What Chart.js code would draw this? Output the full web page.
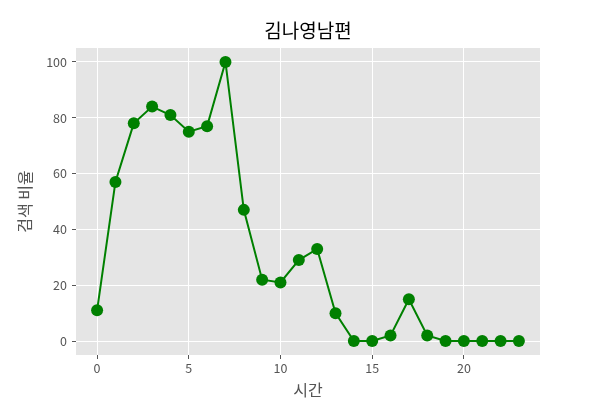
<!DOCTYPE html>
<html><head><meta charset="utf-8">
<script src="https://cdn.jsdelivr.net/npm/chart.js@4"></script>
<style>html,body{margin:0;padding:0;background:#fff}#wrap{width:600px;height:400px}</style>
</head><body><div id="wrap"><canvas id="c" width="600" height="400"></canvas></div>
<script>
const hours = [0,1,2,3,4,5,6,7,8,9,10,11,12,13,14,15,16,17,18,19,20,21,22,23];
const ratio = [11,57,78,84,81,75,77,100,47,22,21,29,33,10,0,0,2,15,2,0,0,0,0,0];
const titleText = '김나영남편';
const xLabel = '시간';
const yLabel = '검색 비율';
const FONT = "'Noto Sans CJK KR', 'Noto Sans', sans-serif";

const bgPlugin = {
  id: 'bg',
  afterLayout(chart) {
    const t = chart.titleBlock, a = chart.chartArea;
    if (t) { t.left = a.left; t.right = a.right; t.width = a.right - a.left; }
  },
  beforeDraw(chart) {
    const {ctx, chartArea: a} = chart;
    ctx.save(); ctx.fillStyle = '#E5E5E5';
    ctx.fillRect(a.left, a.top, a.right - a.left, a.bottom - a.top);
    ctx.restore();
  }
};

new Chart(document.getElementById('c'), {
  type: 'line',
  data: { datasets: [{
    data: hours.map((h, i) => ({x: h, y: ratio[i]})),
    borderColor: '#008000', backgroundColor: '#008000',
    pointBackgroundColor: '#008000', pointBorderWidth: 0,
    borderWidth: 2, pointRadius: 6, pointHoverRadius: 6, tension: 0
  }]},
  options: {
    responsive: false, animation: false,
    layout: { padding: { left: 0, right: 60, top: 0, bottom: 0 } },
    plugins: {
      legend: { display: false }, tooltip: { enabled: false },
      title: { display: true, text: titleText, color: '#000',
        font: { family: FONT, size: 19, weight: 'normal', lineHeight: 1.2 },
        padding: { top: 19, bottom: 6.2 } }
    },
    scales: {
      x: { type: 'linear', min: -1.15, max: 24.15,
        afterFit(s) { s.height = 45; },
        afterBuildTicks(s) { s.ticks = [0,5,10,15,20].map(v => ({value: v})); },
        grid: { color: '#FFFFFF', lineWidth: 1, tickColor: '#555', tickLength: 4 },
        border: { display: false },
        ticks: { color: '#555', font: { family: FONT, size: 12.5 }, padding: 2 },
        title: { display: true, text: xLabel, color: '#555',
          font: { family: FONT, size: 16 }, padding: { top: 0, bottom: 0 } }
      },
      y: { min: -5, max: 105,
        afterFit(s) { s.width = 76; },
        afterBuildTicks(s) { s.ticks = [0,20,40,60,80,100].map(v => ({value: v})); },
        grid: { color: '#FFFFFF', lineWidth: 1, tickColor: '#555', tickLength: 4 },
        border: { display: false },
        ticks: { color: '#555', font: { family: FONT, size: 12.5 }, padding: 5 },
        title: { display: true, text: yLabel, color: '#555',
          font: { family: FONT, size: 16 }, padding: { top: 15, bottom: 0 } }
      }
    }
  },
  plugins: [bgPlugin]
});
</script></body></html>
